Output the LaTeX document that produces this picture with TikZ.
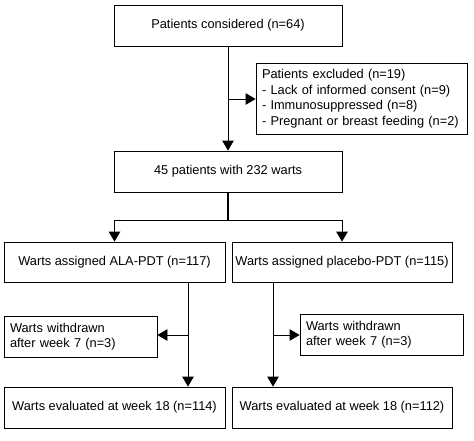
\documentclass[tikz,border=0pt]{standalone}
\usepackage{fontspec}
\setmainfont{Liberation Sans}
\usetikzlibrary{arrows.meta}
\tikzset{
  box/.style={draw, line width=0.8pt, inner sep=0pt, align=center},
  listbox/.style={draw, line width=0.8pt, inner xsep=6pt, inner ysep=0pt, align=left},
  arr/.style={line width=0.8pt, -{Triangle[length=10pt,width=11.5pt]}},
}
\begin{document}
\begin{tikzpicture}[x=1pt,y=-1pt,font=\fontsize{12.8}{15.6}\selectfont]
    \useasboundingbox (0,0) rectangle (474,440);
    % top part
    \node[box, minimum width=228pt, minimum height=41pt] (top) at (228,25.5) {Patients considered (n=64)};
    \node[listbox, minimum width=211pt, minimum height=71pt, text width=199pt] (excl) at (361.5,98.5)
        {Patients excluded (n=19)\\- Lack of informed consent (n=9)\\- Immunosuppressed (n=8)\\- Pregnant or breast feeding (n=2)};
    \node[box, minimum width=228pt, minimum height=41pt] (mid) at (228,171.5) {45 patients with 232 warts};
    \coordinate (ex) at (228,99);
    \draw[arr] (top) -- (mid);
    \draw[arr] (ex) -- (excl.west |- ex);
    % two arms
    \node[box, minimum width=221pt, minimum height=40pt] (ala) at (114.5,262) {Warts assigned ALA-PDT (n=117)};
    \node[box, minimum width=220pt, minimum height=40pt] (plac) at (342,262) {Warts assigned placebo-PDT (n=115)};
    \coordinate (split) at (228,220);
    \draw[line width=1.6pt] (mid) -- (split);
    \draw[arr] (split) -| (ala);
    \draw[arr] (split) -| (plac);
    % withdrawn
    \node[listbox, minimum width=153pt, minimum height=41pt, text width=141pt] (wl) at (80.5,336.5)
        {Warts withdrawn\\after week 7 (n=3)};
    \node[listbox, minimum width=163pt, minimum height=41pt, text width=151pt] (wr) at (381.5,334.5)
        {Warts withdrawn\\after week 7 (n=3)};
    % evaluated
    \node[box, minimum width=221pt, minimum height=41pt] (evl) at (114.5,407.5) {Warts evaluated at week 18 (n=114)};
    \node[box, minimum width=220pt, minimum height=41pt] (evr) at (342,407.5) {Warts evaluated at week 18 (n=112)};
    \coordinate (la) at (188,282);
    \coordinate (lw) at (188,335);
    \coordinate (ra) at (273,282);
    \coordinate (rw) at (273,335);
    \draw[arr] (la) -- (la |- evl.north);
    \draw[arr] (lw) -- (wl.east |- lw);
    \draw[arr] (ra) -- (ra |- evr.north);
    \draw[arr] (rw) -- (wr.west |- rw);
\end{tikzpicture}
\end{document}
